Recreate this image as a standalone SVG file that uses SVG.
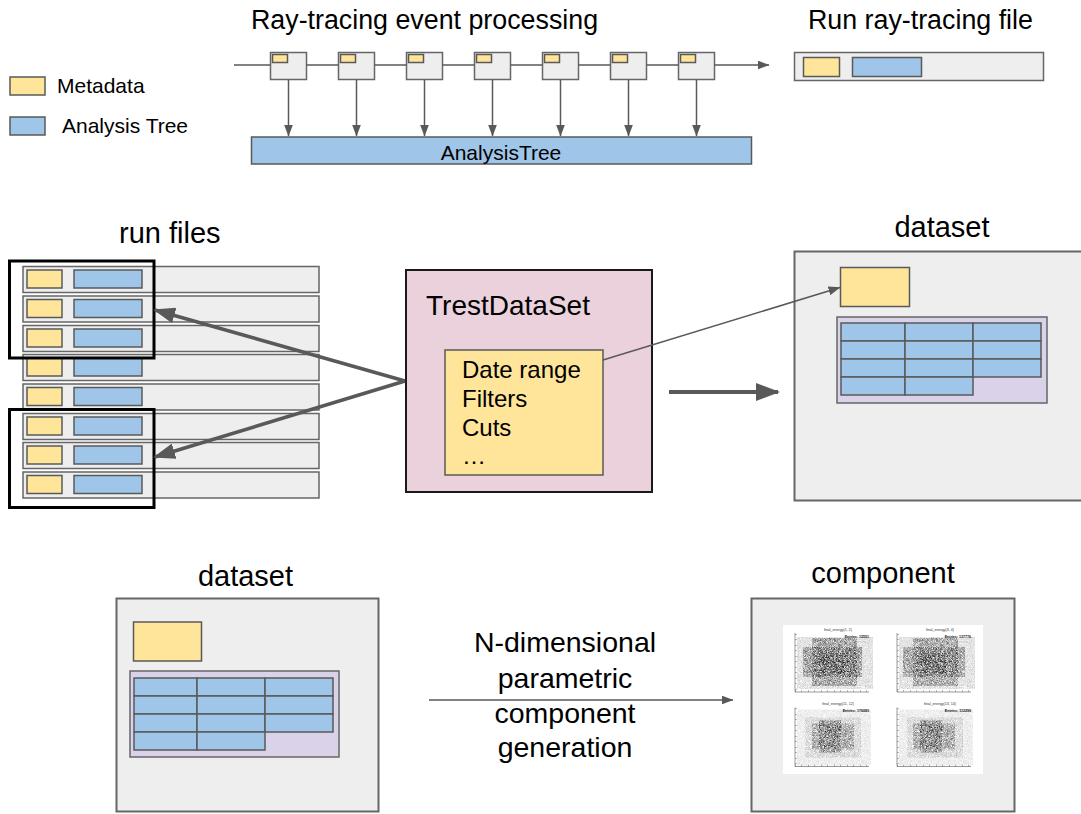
<svg xmlns="http://www.w3.org/2000/svg" width="1081" height="814" viewBox="0 0 1081 814">
<defs>
<style>
text{font-family:"Liberation Sans",Arial,Helvetica,sans-serif;fill:#000}
.y{fill:#ffe599;stroke:#595959;stroke-width:1.5}
.b{fill:#9fc5e8;stroke:#595959;stroke-width:1.5}
.g{fill:#eeeeee;stroke:#666666;stroke-width:1.5}
.p{fill:#d9d2e9;stroke:#666666;stroke-width:1.5}
.ln{fill:none;stroke:#595959;stroke-width:1.5}
.thick{fill:none;stroke:#595959;stroke-width:3.5}
.sel{fill:none;stroke:#000;stroke-width:3}
.t26{font-size:26.8px}
.t29{font-size:29px}
.t21{font-size:21px}
.t24{font-size:24px}
.tiny{font-size:3.6px;fill:#333}
.tinyb{font-size:3.6px;fill:#111;font-weight:bold}
.ax{stroke:#555;stroke-width:0.6;fill:none}
.tk{stroke:#555;stroke-width:1.6;stroke-dasharray:0.5 5;fill:none}
</style>
<marker id="ah" viewBox="0 0 12 9" refX="11.5" refY="4.5" markerWidth="12" markerHeight="9" markerUnits="userSpaceOnUse" orient="auto"><path d="M0,0 L12,4.5 L0,9 z" fill="#595959"/></marker>
<marker id="ahb" viewBox="0 0 22 16" refX="20" refY="8" markerWidth="22" markerHeight="16" markerUnits="userSpaceOnUse" orient="auto"><path d="M0,0 L22,8 L0,16 z" fill="#595959"/></marker>
<marker id="ahc" viewBox="0 0 24 18" refX="22" refY="9" markerWidth="24" markerHeight="18" markerUnits="userSpaceOnUse" orient="auto"><path d="M0,0 L24,9 L0,18 z" fill="#595959"/></marker>
<filter id="speck" x="0" y="0" width="1" height="1">
<feTurbulence type="fractalNoise" baseFrequency="2.2" numOctaves="1" seed="7" result="n"/>
<feColorMatrix in="n" type="matrix" values="0 0 0 0 0  0 0 0 0 0  0 0 0 0 0  2 0 0 0 -0.45" result="a"/>
<feComposite in="SourceGraphic" in2="a" operator="in"/>
</filter>
</defs>

<rect width="1081" height="814" fill="#ffffff"/>

<!-- Titles -->
<g id="titles">
<text class="t26" x="251" y="29">Ray-tracing event processing</text>
<text class="t26" x="808" y="29">Run ray-tracing file</text>
<text class="t29" x="119" y="243">run files</text>
<text class="t29" x="942" y="237" text-anchor="middle">dataset</text>
<text class="t29" x="245.5" y="586" text-anchor="middle">dataset</text>
<text class="t29" x="883" y="583" text-anchor="middle">component</text>
</g>

<!-- Legend -->
<g id="legend">
<rect class="y" x="10" y="77" width="35" height="18"/>
<text class="t21" x="57" y="93">Metadata</text>
<rect class="b" x="10" y="117" width="35" height="18"/>
<text class="t21" x="62" y="133">Analysis Tree</text>
</g>

<!-- Event boxes -->
<g id="events">
<g id="ev1"><rect class="g" x="270.5" y="52.5" width="36" height="27"/><rect class="y" x="272.5" y="54.5" width="15" height="8"/></g>
<g id="ev2"><rect class="g" x="338.5" y="52.5" width="36" height="27"/><rect class="y" x="340.5" y="54.5" width="15" height="8"/></g>
<g id="ev3"><rect class="g" x="406.5" y="52.5" width="36" height="27"/><rect class="y" x="408.5" y="54.5" width="15" height="8"/></g>
<g id="ev4"><rect class="g" x="474.5" y="52.5" width="36" height="27"/><rect class="y" x="476.5" y="54.5" width="15" height="8"/></g>
<g id="ev5"><rect class="g" x="542.5" y="52.5" width="36" height="27"/><rect class="y" x="544.5" y="54.5" width="15" height="8"/></g>
<g id="ev6"><rect class="g" x="610.5" y="52.5" width="36" height="27"/><rect class="y" x="612.5" y="54.5" width="15" height="8"/></g>
<g id="ev7"><rect class="g" x="678.5" y="52.5" width="36" height="27"/><rect class="y" x="680.5" y="54.5" width="15" height="8"/></g>
</g>

<g id="analysistree">
<rect class="b" x="251.5" y="137" width="500" height="27"/>
<text class="t21" x="501" y="159.5" text-anchor="middle">AnalysisTree</text>
</g>

<g id="runfile">
<rect class="g" x="794.5" y="52.5" width="249" height="28"/>
<rect class="y" x="803.5" y="57.5" width="36" height="19"/>
<rect class="b" x="852.5" y="57.5" width="69" height="19"/>
</g>

<!-- Run files -->
<g id="runfiles">
<g><rect class="g" x="23" y="266.5" width="296" height="26"/><rect class="y" x="27" y="270" width="35" height="18"/><rect class="b" x="74" y="270" width="68" height="18"/></g>
<g><rect class="g" x="23" y="296" width="296" height="26"/><rect class="y" x="27" y="299.5" width="35" height="18"/><rect class="b" x="74" y="299.5" width="68" height="18"/></g>
<g><rect class="g" x="23" y="325.5" width="296" height="26"/><rect class="y" x="27" y="329" width="35" height="18"/><rect class="b" x="74" y="329" width="68" height="18"/></g>
<g><rect class="g" x="23" y="354.5" width="296" height="26"/><rect class="y" x="27" y="358" width="35" height="18"/><rect class="b" x="74" y="358" width="68" height="18"/></g>
<g><rect class="g" x="23" y="384" width="296" height="26"/><rect class="y" x="27" y="387.5" width="35" height="18"/><rect class="b" x="74" y="387.5" width="68" height="18"/></g>
<g><rect class="g" x="23" y="413.5" width="296" height="26"/><rect class="y" x="27" y="417" width="35" height="18"/><rect class="b" x="74" y="417" width="68" height="18"/></g>
<g><rect class="g" x="23" y="442.5" width="296" height="26"/><rect class="y" x="27" y="446" width="35" height="18"/><rect class="b" x="74" y="446" width="68" height="18"/></g>
<g><rect class="g" x="23" y="472" width="296" height="26"/><rect class="y" x="27" y="475.5" width="35" height="18"/><rect class="b" x="74" y="475.5" width="68" height="18"/></g>
<rect class="sel" x="9.5" y="261" width="144.5" height="97"/>
<rect class="sel" x="9.5" y="409.5" width="144.5" height="98"/>
</g>

<!-- TrestDataSet -->
<g id="trestdataset">
<rect x="406" y="270" width="246" height="222" fill="#ead1dc" stroke="#1a1a1a" stroke-width="2"/>
<text x="426" y="315" style="font-size:28px">TrestDataSet</text>
<rect class="y" x="445" y="350" width="158" height="125"/>
<text class="t24" x="462" y="378">Date range</text>
<text class="t24" x="462" y="406.5">Filters</text>
<text class="t24" x="462" y="435.5">Cuts</text>
<text class="t24" x="462" y="464">…</text>
</g>

<!-- Dataset (top right) -->
<g id="dataset-top">
<rect class="g" x="794.5" y="251.5" width="300" height="249" style="stroke-width:2"/>
<rect class="y" x="840.5" y="267.5" width="69" height="39"/>
<rect class="p" x="837" y="317" width="210" height="86"/>
<rect class="b" x="841" y="323" width="64" height="18"/><rect class="b" x="905" y="323" width="68" height="18"/><rect class="b" x="973" y="323" width="68" height="18"/>
<rect class="b" x="841" y="341" width="64" height="18"/><rect class="b" x="905" y="341" width="68" height="18"/><rect class="b" x="973" y="341" width="68" height="18"/>
<rect class="b" x="841" y="359" width="64" height="18"/><rect class="b" x="905" y="359" width="68" height="18"/><rect class="b" x="973" y="359" width="68" height="18"/>
<rect class="b" x="841" y="377" width="64" height="18"/><rect class="b" x="905" y="377" width="68" height="18"/>
</g>

<!-- Dataset (bottom left) -->
<g id="dataset-bottom">
<rect class="g" x="116.5" y="598.5" width="262" height="213" style="stroke-width:2"/>
<rect class="y" x="133.5" y="622" width="68" height="39"/>
<rect class="p" x="130" y="671" width="209" height="86"/>
<rect class="b" x="134" y="678" width="63" height="18"/><rect class="b" x="197" y="678" width="68" height="18"/><rect class="b" x="265" y="678" width="68" height="18"/>
<rect class="b" x="134" y="696" width="63" height="18"/><rect class="b" x="197" y="696" width="68" height="18"/><rect class="b" x="265" y="696" width="68" height="18"/>
<rect class="b" x="134" y="714" width="63" height="18"/><rect class="b" x="197" y="714" width="68" height="18"/><rect class="b" x="265" y="714" width="68" height="18"/>
<rect class="b" x="134" y="732" width="63" height="18"/><rect class="b" x="197" y="732" width="68" height="18"/>
</g>

<!-- Generation label -->
<g id="generation-label">
<text x="565" y="652" text-anchor="middle" style="font-size:28.5px">N-dimensional</text>
<text x="565" y="687.5" text-anchor="middle" style="font-size:28.5px">parametric</text>
<text x="565" y="722.5" text-anchor="middle" style="font-size:28.5px">component</text>
<text x="565" y="757" text-anchor="middle" style="font-size:28.5px">generation</text>
</g>

<!-- Component -->
<g id="component">
<rect class="g" x="751.5" y="598.5" width="263" height="213" style="stroke-width:2"/>
<rect x="783" y="625" width="200" height="149" fill="#ffffff"/>
<g transform="translate(783,625)">
<g filter="url(#speck)">
<rect x="14" y="12" width="76" height="52" fill="#000" opacity="0.2"/>
<rect x="20" y="22" width="59" height="30" fill="#000" opacity="0.5"/>
<rect x="29" y="13" width="45" height="48" fill="#000" opacity="0.5"/>
<rect x="36" y="28" width="29" height="20" fill="#000" opacity="0.5"/>
</g>
<path class="ax" d="M12,8 V67 H86"/>
<line class="tk" x1="13" y1="9" x2="13" y2="67"/>
<line class="tk" x1="12" y1="66" x2="86" y2="66" style="stroke-dasharray:0.5 6"/>
<text class="tiny" x="55" y="5.5" text-anchor="middle">final_energy(1, 2)</text>
<text class="tinyb" x="86" y="12.5" text-anchor="end">Entries: 12551</text>
</g>
<g transform="translate(885,625)">
<g filter="url(#speck)">
<rect x="14" y="12" width="76" height="52" fill="#000" opacity="0.2"/>
<rect x="18" y="22" width="62" height="30" fill="#000" opacity="0.45"/>
<rect x="28" y="13" width="45" height="48" fill="#000" opacity="0.45"/>
<rect x="35" y="28" width="26" height="20" fill="#000" opacity="0.5"/>
</g>
<path class="ax" d="M12,8 V67 H86"/>
<line class="tk" x1="13" y1="9" x2="13" y2="67"/>
<line class="tk" x1="12" y1="66" x2="86" y2="66" style="stroke-dasharray:0.5 6"/>
<text class="tiny" x="55" y="5.5" text-anchor="middle">final_energy(3, 4)</text>
<text class="tinyb" x="86" y="12.5" text-anchor="end">Entries: 137776</text>
</g>
<g transform="translate(783,699.5)">
<g filter="url(#speck)">
<rect x="14" y="10" width="74" height="56" fill="#000" opacity="0.12"/>
<rect x="22" y="18" width="56" height="40" fill="#000" opacity="0.15"/>
<rect x="29" y="24" width="42" height="26" fill="#000" opacity="0.4"/>
<rect x="36" y="21" width="22" height="32" fill="#000" opacity="0.5"/>
</g>
<path class="ax" d="M12,8 V67 H86"/>
<line class="tk" x1="13" y1="9" x2="13" y2="67"/>
<line class="tk" x1="12" y1="66" x2="86" y2="66" style="stroke-dasharray:0.5 6"/>
<text class="tiny" x="55" y="5.5" text-anchor="middle">final_energy(11, 12)</text>
<text class="tinyb" x="86" y="12.5" text-anchor="end">Entries: 176083</text>
</g>
<g transform="translate(885,699.5)">
<g filter="url(#speck)">
<rect x="14" y="10" width="74" height="56" fill="#000" opacity="0.12"/>
<rect x="22" y="18" width="56" height="40" fill="#000" opacity="0.15"/>
<rect x="28" y="24" width="42" height="26" fill="#000" opacity="0.4"/>
<rect x="35" y="21" width="22" height="32" fill="#000" opacity="0.5"/>
</g>
<path class="ax" d="M12,8 V67 H86"/>
<line class="tk" x1="13" y1="9" x2="13" y2="67"/>
<line class="tk" x1="12" y1="66" x2="86" y2="66" style="stroke-dasharray:0.5 6"/>
<text class="tiny" x="55" y="5.5" text-anchor="middle">final_energy(13, 14)</text>
<text class="tinyb" x="86" y="12.5" text-anchor="end">Entries: 112299</text>
</g>
</g>

<!-- Connectors (drawn last, on top) -->
<g id="connectors">
<path class="ln" d="M234,65 H270.5 M306.5,65 H338.5 M374.5,65 H406.5 M442.5,65 H474.5 M510.5,65 H542.5 M578.5,65 H610.5 M646.5,65 H678.5"/>
<line class="ln" x1="714.5" y1="65" x2="769" y2="65" marker-end="url(#ah)"/>
<line class="ln" x1="288.5" y1="80" x2="288.5" y2="136" marker-end="url(#ah)"/>
<line class="ln" x1="356.5" y1="80" x2="356.5" y2="136" marker-end="url(#ah)"/>
<line class="ln" x1="424.5" y1="80" x2="424.5" y2="136" marker-end="url(#ah)"/>
<line class="ln" x1="492.5" y1="80" x2="492.5" y2="136" marker-end="url(#ah)"/>
<line class="ln" x1="560.5" y1="80" x2="560.5" y2="136" marker-end="url(#ah)"/>
<line class="ln" x1="628.5" y1="80" x2="628.5" y2="136" marker-end="url(#ah)"/>
<line class="ln" x1="696.5" y1="80" x2="696.5" y2="136" marker-end="url(#ah)"/>
<line class="thick" x1="405" y1="381" x2="155" y2="310" marker-end="url(#ahb)"/>
<line class="thick" x1="405" y1="381" x2="155" y2="457" marker-end="url(#ahb)"/>
<line class="ln" x1="603" y1="360" x2="840" y2="287.5" marker-end="url(#ah)"/>
<line x1="669" y1="392" x2="778" y2="392" stroke="#595959" stroke-width="4" marker-end="url(#ahc)"/>
<line class="ln" x1="429" y1="700" x2="733" y2="700" marker-end="url(#ah)"/>
</g>
</svg>
